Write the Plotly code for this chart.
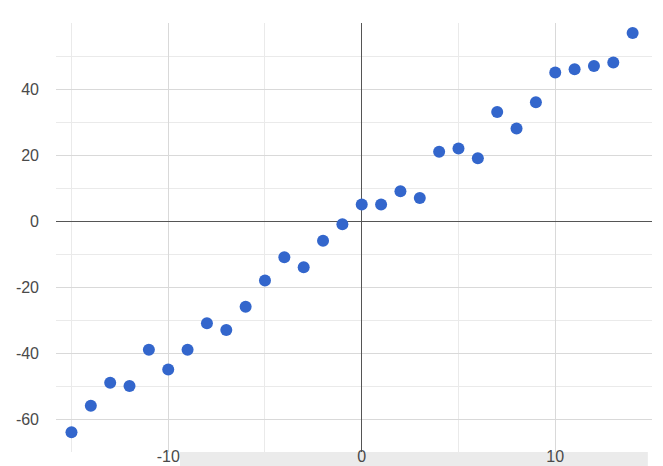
import plotly.graph_objects as go

x_values = [-15, -14, -13, -12, -11, -10, -9, -8, -7, -6, -5, -4, -3, -2, -1,
            0, 1, 2, 3, 4, 5, 6, 7, 8, 9, 10, 11, 12, 13, 14]
y_values = [-64, -56, -49, -50, -39, -45, -39, -31, -33, -26, -18, -11, -14, -6, -1,
            5, 5, 9, 7, 21, 22, 19, 33, 28, 36, 45, 46, 47, 48, 57]

x_major_ticks = [-10, 0, 10]
x_minor_ticks = [-15, -5, 5, 15]
y_major_ticks = [-60, -40, -20, 0, 20, 40]
y_minor_ticks = [-70, -50, -30, -10, 10, 30, 50, 60]

fig = go.Figure()
fig.add_trace(go.Scatter(
    x=x_values, y=y_values, mode="markers",
    marker=dict(size=12, color="#3366cc", line=dict(width=0)),
    hoverinfo="x+y", showlegend=False,
))

font = dict(family="Arial, Liberation Sans, sans-serif", size=16, color="#4a4a4a")

fig.update_layout(
    width=655, height=458,
    margin=dict(l=48, r=11, t=15, b=14, autoexpand=False),
    paper_bgcolor="white", plot_bgcolor="white",
    font=font,
    xaxis=dict(
        range=[-15.8, 15.0], tickmode="array", tickvals=x_major_ticks,
        ticktext=[str(v) for v in x_major_ticks],
        showgrid=True, gridcolor="#d9d9d9", gridwidth=1,
        minor=dict(tickmode="array", tickvals=x_minor_ticks, showgrid=True,
                   gridcolor="#eaeaea", gridwidth=1, ticklen=0),
        zeroline=True, zerolinecolor="#555555", zerolinewidth=1,
        showline=False, ticks="", ticklabelstandoff=-7, automargin=False,
        fixedrange=True,
    ),
    yaxis=dict(
        range=[-70, 60], tickmode="array", tickvals=y_major_ticks,
        ticktext=[str(v) for v in y_major_ticks],
        showgrid=True, gridcolor="#d9d9d9", gridwidth=1,
        minor=dict(tickmode="array", tickvals=y_minor_ticks, showgrid=True,
                   gridcolor="#eaeaea", gridwidth=1, ticklen=0),
        zeroline=True, zerolinecolor="#555555", zerolinewidth=1,
        showline=False, ticks="", ticklabelstandoff=16, automargin=False,
        fixedrange=True,
    ),
    shapes=[dict(type="rect", xref="paper", yref="paper",
                 x0=0.208, x1=0.993, y0=-0.035, y1=0.0,
                 fillcolor="#ebebeb", line=dict(width=0), layer="below")],
)

fig.write_html("out.html", config={"displayModeBar": False})
